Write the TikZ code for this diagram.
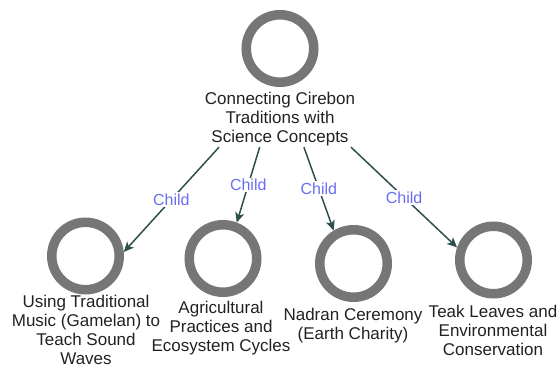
\documentclass[tikz,border=0pt]{standalone}
\usepackage{fontspec}
\setmainfont{Liberation Sans}
\usetikzlibrary{arrows.meta}
\definecolor{ringgray}{HTML}{767676}
\definecolor{edgecol}{HTML}{2F4F4F}
\definecolor{childcol}{RGB}{105,110,240}
\begin{document}
\begin{tikzpicture}[x=1pt,y=-1pt,
  ring/.style={circle, draw=ringgray, line width=9.5pt, minimum size=67.5pt, inner sep=0pt},
  caption/.style={align=center, inner sep=0pt, anchor=north, text=black!87,
    font=\fontsize{17}{19}\selectfont},
  link/.style={draw=edgecol, line width=1.5pt,
    -{Stealth[length=10pt,width=9pt,inset=2.5pt]}},
  tag/.style={fill=white, inner sep=1.5pt, text=childcol,
    font=\fontsize{16}{18}\selectfont}]
\useasboundingbox (0,0) rectangle (560,369);

% root topic: ring, caption and the box the links leave from
\node[ring] (c0) at (280,48.5) {};
\node[caption] (l0) at (280,92) {Connecting Cirebon\\Traditions with\\Science Concepts};
\node[inner sep=0pt, minimum width=200pt, minimum height=134pt] (root) at (280,80) {};

% child topics
\node[ring] (c1) at (85.5,256) {};
\node[caption] (l1) at (86,294.6) {Using Traditional\\Music (Gamelan) to\\Teach Sound\\Waves};

\node[ring] (c2) at (223,258.5) {};
\node[caption] (l2) at (221,300.6) {Agricultural\\Practices and\\Ecosystem Cycles};

\node[ring] (c3) at (353.5,263.5) {};
\node[caption] (l3) at (353,307.6) {Nadran Ceremony\\(Earth Charity)};

\node[ring] (c4) at (493.5,260) {};
\node[caption] (l4) at (493,304.6) {Teak Leaves and\\Environmental\\Conservation};

% links
\draw[link] (root) -- (c1.6)   node[midway, tag] {Child};
\draw[link] (root) -- (c2.69)  node[midway, tag] {Child};
\draw[link] (root) -- (c3.121) node[midway, tag] {Child};
\draw[link] (root) -- (c4.161) node[midway, tag] {Child};
\end{tikzpicture}
\end{document}
